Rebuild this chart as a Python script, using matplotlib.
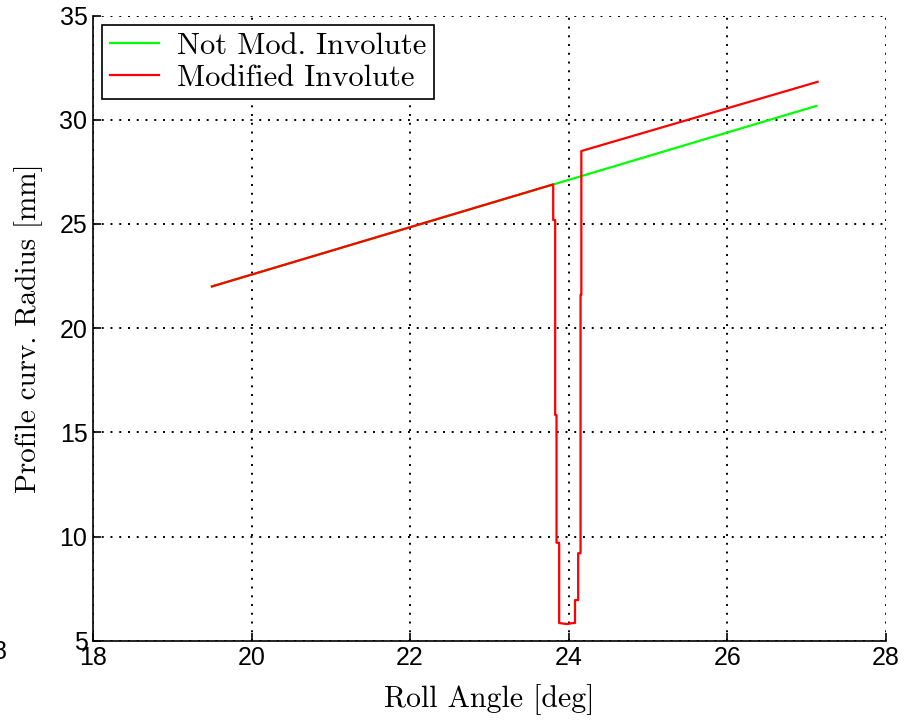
import matplotlib

matplotlib.use("Agg")
import matplotlib.pyplot as plt

# roll angle [deg] / profile curvature radius [mm]
not_mod_angle = [19.5, 27.12]
not_mod_radius = [22.0, 30.66]

mod_angle = [19.5, 23.805, 23.805, 23.83, 23.83, 23.847, 23.847, 23.88, 23.88,
             23.98, 24.05, 24.08, 24.08, 24.12, 24.12, 24.15, 24.15, 24.16, 24.16,
             27.14]
mod_radius = [22.0, 26.9, 25.19, 25.19, 15.83, 15.83, 9.7, 9.7, 5.85,
              5.8, 5.85, 5.85, 6.95, 6.95, 9.2, 9.2, 21.6, 21.6, 28.5,
              31.82]

xticks = [18, 20, 22, 24, 26, 28]
yticks = [5, 10, 15, 20, 25, 30, 35]

label_font = "cmr10"
tick_font = "Liberation Sans"

fig = plt.figure(figsize=(9.16, 7.24), dpi=100)
ax = fig.add_axes([0.1015, 0.115, 0.8655, 0.8635])

ax.plot(not_mod_angle, not_mod_radius, color="#00ff00", lw=1.6, label="Not Mod. Involute")
ax.plot(mod_angle, mod_radius, color="#ff0000", lw=1.6, label="Modified Involute")

ax.set_xlim(18, 28)
ax.set_ylim(5, 35)
ax.set_xticks(xticks)
ax.set_yticks(yticks)
ax.grid(True, color="black", ls=(0, (1, 3.5)), lw=1.4)
for side in ("top", "right"):
    ax.spines[side].set_visible(False)
for side in ("left", "bottom"):
    ax.spines[side].set_linewidth(1.2)
ax.tick_params(direction="in", length=6, width=1.2, labelsize=18, pad=4)
for lbl in ax.get_xticklabels() + ax.get_yticklabels():
    lbl.set_fontfamily(tick_font)

ax.set_xlabel("Roll Angle [deg]", fontsize=21.5, family=label_font, labelpad=10)
ax.set_ylabel("Profile curv. Radius [mm]", fontsize=21, family=label_font, labelpad=12)

leg = ax.legend(loc="upper left", prop={"family": label_font, "size": 22},
                frameon=True, fancybox=False, edgecolor="black", framealpha=1,
                borderaxespad=0.3, handlelength=1.6, handletextpad=0.6,
                borderpad=0.25, labelspacing=0.15)
leg.get_frame().set_linewidth(1.2)

# stray clipped label at the left edge of the source image
fig.text(0.0, 0.1, "8", fontsize=18, family=tick_font, ha="center", va="center")

fig.savefig("out.png", dpi=100)
